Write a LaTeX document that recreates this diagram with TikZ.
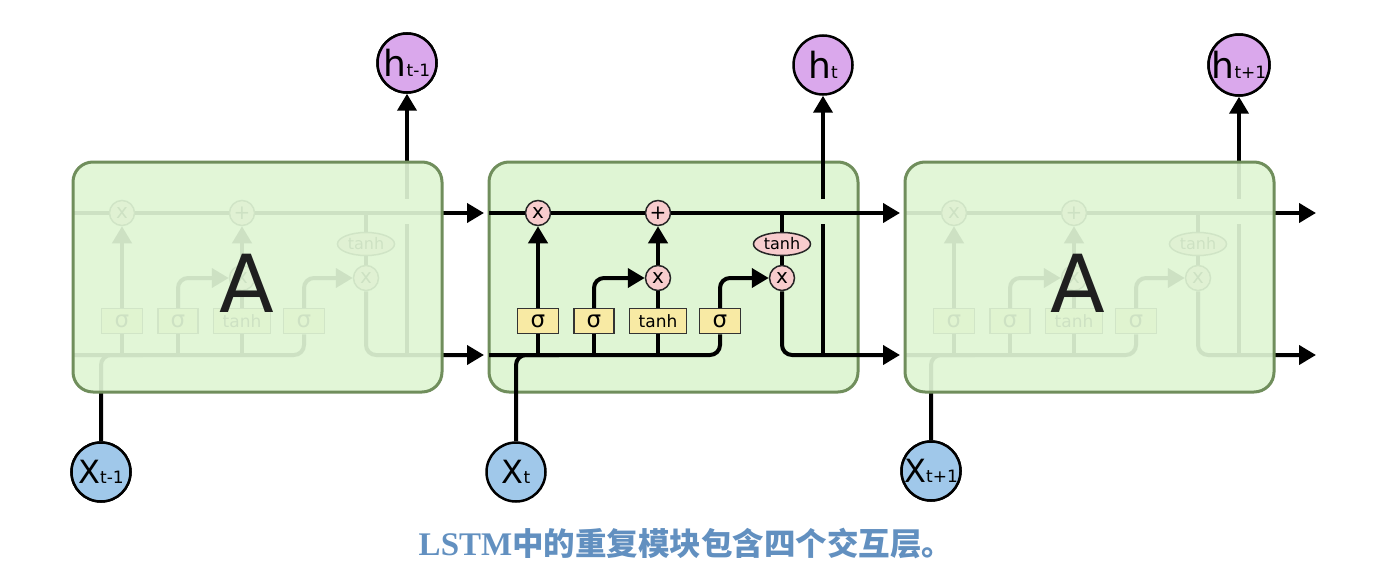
\documentclass[tikz,border=0pt]{standalone}
\usepackage{fontspec}
\setmainfont{DejaVu Sans}
\newfontfamily\cjkfont{Noto Sans CJK SC}
\newfontfamily\capfont{Liberation Serif}
\usetikzlibrary{arrows.meta,shapes.geometric}
\definecolor{cellgreen}{RGB}{223,245,212}
\definecolor{cellborder}{RGB}{112,142,92}
\definecolor{pinkop}{RGB}{247,204,205}
\definecolor{layeryellow}{RGB}{248,234,164}
\definecolor{hviolet}{RGB}{218,168,236}
\definecolor{xblue}{RGB}{160,200,234}
\definecolor{captionblue}{RGB}{98,144,192}
\tikzset{
 wire/.style={line width=4pt, draw=black},
 arr/.style={wire, -{Triangle[length=17pt,width=19pt]}},
 gateop/.style={circle, draw=black!85, line width=1.5pt, fill=pinkop, minimum size=25pt, inner sep=0pt, font=\fontsize{20}{20}\selectfont},
 layerbox/.style={rectangle, draw=black!80, line width=1.5pt, fill=layeryellow, minimum height=25pt, inner sep=0pt, font=\fontsize{17}{17}\selectfont},
 sigmatext/.style={font=\fontsize{23}{23}\selectfont},
 tanhop/.style={ellipse, draw=black!85, line width=1.5pt, fill=pinkop, minimum width=57pt, minimum height=23pt, inner sep=0pt, font=\fontsize{16}{16}\selectfont},
 cellbox/.style={rectangle, rounded corners=20pt, draw=cellborder, line width=3pt, fill=cellgreen, minimum width=369pt, minimum height=230pt, inner sep=0pt},
 fadedbox/.style={cellbox, fill opacity=0.92},
 hnode/.style={circle, draw, line width=2.5pt, fill=hviolet, minimum size=59pt, inner sep=0pt},
 xnode/.style={circle, draw, line width=2.5pt, fill=xblue, minimum size=59pt, inner sep=0pt},
 bigA/.style={font=\fontsize{80}{80}\selectfont, text=black!88, inner sep=0pt},
}
\newcommand\hlab[1]{{\fontsize{36}{36}\selectfont h}{\fontsize{17}{17}\selectfont #1}}
\newcommand\xlab[1]{{\fontsize{32}{32}\selectfont X}{\fontsize{17}{17}\selectfont #1}}
\newcommand\lstminternals[2]{%
\begin{scope}[shift={(#1,0)}]
\coordinate (#2cin) at (0,213);
\coordinate (#2cout) at (411,213);
\coordinate (#2hin) at (0,355);
\coordinate (#2hout) at (411,355);
\coordinate (#2tj) at (293,213);
\coordinate (#2hj) at (334,355);
\coordinate (#2hgl) at (334,224);
\coordinate (#2hgu) at (334,199);
\coordinate (#2xj) at (70,355);
\node[gateop] (#2fx) at (49,213) {x};
\node[gateop] (#2add) at (169,213) {+};
\node[gateop] (#2ix) at (169,278) {x};
\node[tanhop] (#2th) at (293,244) {tanh};
\node[gateop] (#2ox) at (293,278) {x};
\node[layerbox, sigmatext, minimum width=41pt] (#2s1) at (49,321) {σ};
\node[layerbox, sigmatext, minimum width=40pt] (#2s2) at (105,321) {σ};
\node[layerbox, minimum width=57pt] (#2tb) at (169,321) {tanh};
\node[layerbox, sigmatext, minimum width=41pt] (#2s3) at (231,321) {σ};
% cell state line
\draw[wire] (#2cin) -- (#2fx);
\draw[wire] (#2fx) -- (#2add);
\draw[arr] (#2add) -- (#2cout);
% bottom input line
\draw[wire, rounded corners=10pt] (#2hin) -| (#2s3);
\draw[wire] (#2s1) -- (#2s1 |- #2hin);
\draw[wire] (#2s2) -- (#2s2 |- #2hin);
\draw[wire] (#2tb) -- (#2tb |- #2hin);
% gates
\draw[arr] (#2s1) -- (#2fx);
\draw[arr, rounded corners=10pt] (#2s2) |- (#2ix);
\draw[wire] (#2tb) -- (#2ix);
\draw[arr] (#2ix) -- (#2add);
\draw[arr, rounded corners=10pt] (#2s3) |- (#2ox);
\draw[wire] (#2tj) -- (#2th);
\draw[wire] (#2th) -- (#2ox);
\draw[arr, rounded corners=10pt] (#2ox) |- (#2hout);
\draw[wire] (#2hj) -- (#2hgl);
\end{scope}}
\begin{document}
\begin{tikzpicture}[x=1pt,y=-1pt]
\useasboundingbox (0,0) rectangle (1375,567);
% ---- left cell (faded) ----
\lstminternals{73}{L}
\node[hnode] (hL) at (407,63) {\hlab{t-1}};
\node[xnode] (xL) at (101,472) {\xlab{t-1}};
\draw[arr] (Lhgu) -- (hL);
\draw[wire, rounded corners=10pt] (xL) |- (Lxj);
\node[fadedbox] (boxL) at (257.5,277) {};
\node[bigA] (AL) at (247,283) {A};
\node[hnode] at (hL) {\hlab{t-1}};
\node[xnode] at (xL) {\xlab{t-1}};
% ---- middle cell ----
\node[cellbox] (boxM) at (673.5,277) {};
\lstminternals{489}{M}
\node[hnode] (hM) at (823,65) {\hlab{t}};
\node[xnode] (xM) at (516,472) {\xlab{t}};
\draw[arr] (Mhgu) -- (hM);
\draw[wire, rounded corners=10pt] (xM) |- (Mxj);
% ---- right cell (faded) ----
\lstminternals{905}{R}
\node[hnode] (hR) at (1239,65) {\hlab{t+1}};
\node[xnode] (xR) at (931,471) {\xlab{t+1}};
\draw[arr] (Rhgu) -- (hR);
\draw[wire, rounded corners=10pt] (xR) |- (Rxj);
\node[fadedbox] (boxR) at (1089.5,277) {};
\node[bigA] (AR) at (1078,283) {A};
\node[hnode] at (hR) {\hlab{t+1}};
\node[xnode] at (xR) {\xlab{t+1}};
% ---- caption ----
\node[text=captionblue, inner sep=0pt] (cap) at (686,543) {{\capfont\bfseries\fontsize{33}{33}\selectfont LSTM}{\cjkfont\bfseries\fontsize{31.5}{31.5}\selectfont 中的重复模块包含四个交互层。}};
\end{tikzpicture}
\end{document}
